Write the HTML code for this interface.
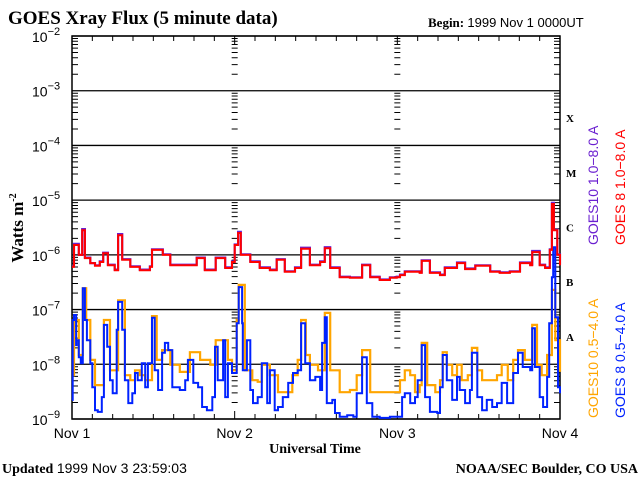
<!DOCTYPE html>
<html><head><meta charset="utf-8"><style>
html,body{margin:0;padding:0;background:#fff;}
svg{display:block;}
.serif{font-family:"Liberation Serif",serif;font-weight:bold;}
.sans{font-family:"Liberation Sans",sans-serif;}
</style></head><body>
<svg id="chart" width="640" height="480" viewBox="0 0 640 480" xmlns="http://www.w3.org/2000/svg">
<text class="serif" x="8" y="24" font-size="19">GOES Xray Flux (5 minute data)</text>
<text class="serif" x="428" y="27" font-size="13">Begin:  <tspan font-weight="normal" font-family="Liberation Sans,sans-serif">1999 Nov 1 0000UT</tspan></text>
<text class="serif" font-size="17" transform="translate(23,228) rotate(-90)" text-anchor="middle">Watts m<tspan font-size="10" dy="-7">-2</tspan></text>
<text class="serif" x="315" y="453" font-size="14" text-anchor="middle">Universal Time</text>
<text class="serif" x="2" y="473" font-size="14">Updated <tspan font-weight="normal" font-family="Liberation Sans,sans-serif">1999 Nov  3 23:59:03</tspan></text>
<text class="serif" x="638" y="473" font-size="14" text-anchor="end">NOAA/SEC Boulder, CO USA</text>
<g class="sans" font-size="14">
<text fill="#6a1fd0" transform="translate(598,245) rotate(-90)">GOES10 1.0−8.0 A</text>
<text fill="#ff0000" transform="translate(625,245) rotate(-90)">GOES 8 1.0−8.0 A</text>
<text fill="#ffa500" transform="translate(598,418) rotate(-90)">GOES10 0.5−4.0 A</text>
<text fill="#0022ff" transform="translate(625,418) rotate(-90)">GOES 8 0.5−4.0 A</text>
</g>
<g id="plot"></g>
</svg>
<script>
const flareClasses = ["X","M","C","B","A"];
const decadeExps = [-2,-3,-4,-5,-6,-7,-8,-9];
const dayLabels = ["Nov 1","Nov 2","Nov 3","Nov 4"];
const goes8LongHours = [0,0.3,1.0,1.5,1.9,2.7,3.4,4.1,4.6,5.3,6.3,6.8,7.4,8.6,10.0,11.5,11.8,13.4,14.5,15.9,18.4,19.6,21.2,22.6,23.6,24.0,24.5,24.9,26.3,27.7,29.2,30.2,31.4,32.9,33.8,35.1,36.6,37.3,38.1,39.5,41.0,42.8,44.0,45.4,46.9,47.9,48.4,49.1,51.3,51.6,52.8,54.3,55.0,56.8,58.0,59.5,61.7,63.1,64.6,66.1,67.6,67.9,69.0,69.8,70.5,70.8,71.1,71.6,72.0];
const goes8LongLog = [-6.22,-5.82,-6.00,-5.55,-6.06,-6.15,-6.20,-6.13,-5.97,-6.19,-6.28,-5.64,-6.09,-6.22,-6.28,-6.22,-5.91,-6.00,-6.19,-6.19,-6.06,-6.28,-6.06,-6.24,-6.13,-5.82,-5.60,-6.00,-6.13,-6.24,-6.28,-6.09,-6.31,-6.24,-5.89,-6.19,-6.13,-5.88,-6.24,-6.41,-6.42,-6.19,-6.41,-6.46,-6.42,-6.41,-6.37,-6.31,-6.33,-6.11,-6.33,-6.37,-6.24,-6.15,-6.26,-6.20,-6.31,-6.33,-6.31,-6.15,-6.19,-5.95,-6.19,-6.24,-5.91,-5.07,-5.55,-6.00,-6.19];
const goes10LongHours = goes8LongHours;
const goes10LongLog = [-6.21,-5.80,-6.00,-5.53,-6.05,-6.15,-6.19,-6.12,-5.96,-6.18,-6.27,-5.62,-6.08,-6.21,-6.27,-6.21,-5.90,-5.99,-6.18,-6.18,-6.05,-6.27,-6.05,-6.23,-6.12,-5.81,-5.58,-5.99,-6.12,-6.23,-6.27,-6.08,-6.30,-6.23,-5.87,-6.18,-6.12,-5.86,-6.23,-6.40,-6.41,-6.18,-6.40,-6.45,-6.41,-6.40,-6.36,-6.30,-6.32,-6.10,-6.32,-6.36,-6.23,-6.14,-6.25,-6.19,-6.30,-6.32,-6.30,-6.14,-6.18,-5.93,-6.18,-6.23,-5.90,-5.05,-5.54,-5.99,-6.18];
const goes8ShortHours = [0,0.1,0.3,0.6,0.7,1.0,1.3,1.6,1.9,2.2,2.7,3.0,3.4,3.8,4.4,4.7,5.2,5.6,6.0,6.6,6.8,7.4,7.8,8.3,8.9,9.3,9.7,10.3,10.8,11.2,11.8,12.2,12.7,13.3,13.7,14.2,14.8,15.2,15.9,16.7,17.1,17.9,18.6,19.2,19.9,20.7,21.1,21.5,22.3,22.6,23.0,23.6,24.3,24.6,25.1,25.2,25.8,26.3,26.7,27.4,28.0,28.8,29.2,29.9,30.4,31.1,31.9,32.6,33.3,33.8,34.4,35.1,35.9,36.6,36.9,37.3,37.6,38.4,38.8,39.5,40.6,41.5,42.0,42.8,43.5,44.3,45.4,46.9,47.9,48.4,48.7,49.1,49.9,50.6,51.0,51.6,52.1,52.8,53.9,54.3,54.7,55.3,56.1,56.8,57.2,58.0,58.7,59.0,59.8,60.5,61.2,62.0,62.7,63.4,64.2,65.1,65.8,66.5,67.6,67.9,68.3,69.0,69.5,70.1,70.4,70.8,71.0,71.3,71.7,72.0];
const goes8ShortLog = [-8.65,-7.19,-7.10,-7.65,-7.56,-7.87,-7.98,-6.61,-7.19,-7.56,-7.98,-8.42,-8.84,-8.87,-8.60,-7.28,-7.68,-8.29,-8.53,-7.37,-6.86,-7.37,-8.29,-8.71,-8.53,-8.16,-8.29,-7.98,-8.42,-7.98,-7.15,-8.11,-8.47,-7.79,-7.61,-7.74,-8.42,-8.42,-8.47,-8.29,-7.92,-8.34,-8.42,-8.78,-8.84,-8.60,-7.68,-8.29,-7.56,-8.60,-7.98,-8.16,-7.25,-6.59,-7.25,-8.11,-7.56,-8.47,-8.71,-8.60,-7.98,-8.71,-8.11,-8.84,-8.78,-8.60,-8.34,-8.16,-8.11,-7.25,-7.98,-8.29,-8.23,-8.47,-7.61,-7.14,-8.71,-8.65,-8.89,-8.96,-8.93,-8.96,-8.53,-7.87,-8.71,-8.96,-8.98,-8.96,-8.96,-8.96,-8.60,-8.53,-8.71,-8.60,-8.29,-7.65,-8.60,-8.87,-8.89,-8.42,-7.83,-8.29,-8.65,-8.23,-8.47,-8.71,-8.47,-7.79,-8.60,-8.84,-8.65,-8.78,-8.71,-8.34,-8.71,-8.16,-7.79,-8.05,-8.11,-7.34,-8.05,-8.60,-8.78,-8.23,-7.25,-6.41,-5.86,-7.14,-8.42,-8.53];
const goes10ShortHours = [0,0.3,1.0,1.6,2.1,2.7,3.4,4.1,4.7,5.6,6.8,7.8,8.6,9.3,10.0,10.8,11.8,12.5,13.3,14.5,15.9,17.4,18.9,20.4,21.2,22.1,23.0,23.6,24.3,24.6,25.5,26.6,27.4,28.0,29.2,30.4,31.4,32.5,33.3,33.8,34.5,35.1,36.3,37.3,38.1,39.5,41.0,42.0,42.8,44.0,47.9,48.4,49.1,49.9,50.6,51.3,51.6,52.4,53.6,54.3,54.7,55.3,56.1,56.8,57.5,58.4,59.0,59.8,60.5,61.7,62.7,63.4,64.3,65.1,65.8,66.8,67.9,68.6,69.3,70.1,70.8,71.3,72.0];
const goes10ShortLog = [-8.20,-7.19,-7.83,-6.61,-7.19,-7.92,-8.38,-8.38,-7.19,-8.11,-6.83,-8.20,-8.29,-8.11,-8.20,-8.29,-7.12,-7.92,-7.74,-8.01,-8.14,-7.78,-7.92,-8.01,-7.56,-7.56,-7.92,-8.11,-7.19,-6.55,-8.11,-8.29,-8.32,-8.01,-8.20,-8.51,-8.51,-8.20,-7.92,-7.19,-7.83,-8.01,-8.11,-7.06,-8.11,-8.51,-8.47,-8.20,-7.74,-8.51,-8.51,-8.29,-8.11,-8.20,-8.51,-8.38,-7.61,-8.38,-8.51,-8.29,-7.78,-8.01,-8.20,-8.01,-8.29,-8.20,-7.70,-8.11,-8.29,-8.29,-8.20,-8.01,-8.29,-7.92,-7.74,-7.92,-7.28,-8.01,-8.20,-7.83,-6.64,-7.56,-8.14];

const NS="http://www.w3.org/2000/svg";
const L=72,R=560,T=36,B=419;
const xS=h=>L+(R-L)*h/72;
const yS=lg=>T+(B-T)*(-2-lg)/7;
const plot=document.getElementById('plot');
function mk(tag,attrs){const e=document.createElementNS(NS,tag);for(const k in attrs)e.setAttribute(k,attrs[k]);plot.appendChild(e);return e;}

decadeExps.forEach((ex)=>{
  const y=yS(ex);
  const g=mk('line',{x1:L,x2:R,y1:y,y2:y,stroke:'#000','stroke-width':1.3});
  
  
  const t=mk('text',{x:32,y:y+6,'font-size':14,'font-family':'Liberation Sans,sans-serif'});
  
  
  t.innerHTML='10<tspan font-size="11" dy="-7">−'+(-ex)+'</tspan>';
});
const tickD=[];
for(let i=0;i<7;i++){for(let m=2;m<=9;m++){tickD.push(yS(-2-i-1+Math.log10(m)));}}
let d='';
tickD.forEach(y=>{
  d+=`M${L},${y}h6M${R},${y}h-6`;
  [1,2].forEach(k=>{const x=xS(24*k);d+=`M${x-3},${y}h6`;});
});
for(let h=3;h<72;h+=3){const x=xS(h);const len=(h%24==0)?8:5;d+=`M${x},${T}v${len}M${x},${B}v-${len}`;}
const tk=mk('path',{d:d,stroke:'#000','stroke-width':1,fill:'none'});


const fr=mk('rect',{x:L,y:T,width:R-L,height:B-T,fill:'none',stroke:'#000','stroke-width':1.5});


dayLabels.forEach((lab,i)=>{
  const t=mk('text',{x:xS(24*i),y:438,'font-size':14,'text-anchor':'middle','font-family':'Liberation Sans,sans-serif'});
  
  
  t.textContent=lab;
});
flareClasses.forEach((c,i)=>{
  const t=mk('text',{x:566,y:yS(-3.5-i)+4,'font-size':11,'font-weight':'bold','font-family':'Liberation Serif,serif'});
  
  
  t.textContent=c;
});
function series(hours,logs,color,w,name){
  let p='';
  hours.forEach((h,i)=>{
    const x=xS(h).toFixed(1),y=yS(Math.max(-9,logs[i])).toFixed(1);
    if(i===0)p+='M'+x+','+y; else p+='H'+x+'V'+y;
  });
  const e=mk('path',{d:p,stroke:color,'stroke-width':w,fill:'none','stroke-linejoin':'miter'});
  
  
}
series(goes10ShortHours,goes10ShortLog,'#ffa500',2.2,'series-goes10-short');
series(goes8ShortHours,goes8ShortLog,'#0022ff',2,'series-goes8-short');
series(goes10LongHours,goes10LongLog,'#6a1fd0',2.2,'series-goes10-long');
series(goes8LongHours,goes8LongLog,'#ff0000',2,'series-goes8-long');
</script>
</body></html>
